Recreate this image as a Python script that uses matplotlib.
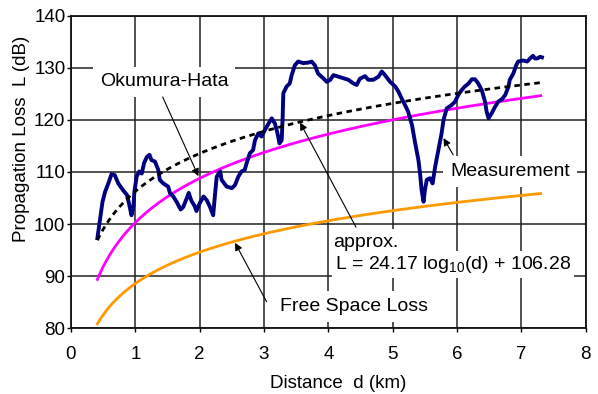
import numpy as np
import matplotlib
matplotlib.use("Agg")
import matplotlib.pyplot as plt

plt.rcParams["font.family"] = ["Liberation Sans", "DejaVu Sans"]
plt.rcParams["mathtext.fontset"] = "custom"
plt.rcParams["mathtext.rm"] = "Liberation Sans"

# Measured propagation loss along the route
d_meas = [0.41, 0.45, 0.49, 0.53, 0.58, 0.63, 0.68, 0.735, 0.81, 0.87, 0.906, 0.94,
          0.97, 0.985, 1.02, 1.06, 1.10, 1.135, 1.18, 1.22, 1.25, 1.305, 1.357, 1.38,
          1.435, 1.51, 1.54, 1.59, 1.64, 1.705, 1.745, 1.80, 1.83, 1.87, 1.92, 1.95,
          2.00, 2.06, 2.11, 2.16, 2.21, 2.24, 2.265, 2.32, 2.34, 2.42, 2.50, 2.55,
          2.60, 2.65, 2.70, 2.73, 2.78, 2.83, 2.86, 2.91, 2.96, 3.015, 3.07, 3.12,
          3.17, 3.21, 3.24, 3.275, 3.29, 3.30, 3.35, 3.40, 3.43, 3.48, 3.53, 3.61,
          3.69, 3.74, 3.79, 3.84, 3.92, 3.975, 4.03, 4.08, 4.155, 4.23, 4.31, 4.39,
          4.44, 4.49, 4.57, 4.62, 4.70, 4.78, 4.83, 4.88, 4.96, 5.04, 5.09, 5.14,
          5.19, 5.24, 5.30, 5.35, 5.40, 5.425, 5.45, 5.48, 5.50, 5.53, 5.58, 5.62,
          5.66, 5.71, 5.76, 5.79, 5.84, 5.92, 5.97, 6.02, 6.07, 6.12, 6.18, 6.23,
          6.28, 6.33, 6.385, 6.435, 6.46, 6.49, 6.54, 6.59, 6.64, 6.70, 6.75, 6.80,
          6.82, 6.875, 6.92, 6.95, 7.03, 7.09, 7.135, 7.18, 7.21, 7.25, 7.29, 7.32]
L_meas = [97.3, 100.8, 104.3, 106.2, 107.8, 109.6, 109.4, 107.8, 106.5, 105.6, 103.7, 101.7,
          103.3, 106.2, 109.1, 110.1, 109.7, 111.7, 112.9, 113.3, 112.3, 112.0, 110.4, 108.5,
          107.8, 107.2, 105.9, 105.3, 104.3, 102.8, 103.3, 105.0, 106.0, 104.5, 103.5, 102.5,
          104.0, 105.3, 104.6, 103.3, 101.7, 105.9, 109.1, 110.1, 108.5, 107.2, 106.9, 107.5,
          109.1, 110.1, 110.4, 111.7, 113.6, 114.2, 116.1, 117.4, 116.8, 118.1, 119.3, 120.3,
          119.3, 117.4, 115.5, 116.1, 120.6, 125.1, 126.4, 127.0, 128.6, 130.5, 131.2, 130.9,
          131.0, 131.2, 130.5, 128.9, 128.0, 127.3, 127.7, 128.6, 128.3, 128.0, 127.7, 127.0,
          126.7, 127.9, 128.4, 127.7, 127.7, 128.3, 129.3, 128.6, 127.3, 126.4, 125.4, 124.1,
          122.9, 121.6, 119.0, 115.5, 112.3, 109.7, 106.5, 104.3, 106.5, 108.5, 108.8, 107.8,
          111.0, 114.2, 117.4, 120.0, 122.2, 122.9, 123.5, 124.8, 125.7, 126.4, 127.0, 127.8,
          127.8, 127.0, 125.7, 123.5, 121.6, 120.3, 121.3, 122.5, 123.5, 124.0, 124.8, 126.4,
          127.7, 128.9, 130.5, 131.2, 131.4, 131.2, 131.8, 132.3, 131.8, 131.8, 132.1, 132.0]

# Model curves: L = slope * log10(d) + intercept
approx_slope, approx_intercept = 24.17, 106.28
hata_slope, hata_intercept = 28.2, 100.3
fsl_slope, fsl_intercept = 20.0, 88.6
d_start, d_end = 0.41, 7.3

x_ticks = [0, 1, 2, 3, 4, 5, 6, 7, 8]
y_ticks = [80, 90, 100, 110, 120, 130, 140]

fig = plt.figure(figsize=(5.98, 3.94), dpi=100)
ax = fig.add_axes([71 / 598, 1 - 328.3 / 394, (585.7 - 71) / 598, (328.3 - 15.7) / 394])

d = np.linspace(d_start, d_end, 300)
ax.plot(d, fsl_slope * np.log10(d) + fsl_intercept, color="#FF9900", lw=2.0, zorder=3)
ax.plot(d, hata_slope * np.log10(d) + hata_intercept, color="#FF00FF", lw=2.0, zorder=3)
ax.plot(d_meas, L_meas, color="#000080", lw=2.8, zorder=4, solid_joinstyle="round")
ax.plot(d, approx_slope * np.log10(d) + approx_intercept, color="black", lw=2.0,
        dashes=(2.0, 1.6), zorder=5)

ax.set_xlim(0, 8)
ax.set_ylim(80, 140)
ax.set_xticks(x_ticks)
ax.set_yticks(y_ticks)
ax.grid(True, color="#222222", lw=1.1)
ax.set_axisbelow(True)
for s in ax.spines.values():
    s.set_linewidth(1.3)
    s.set_color("#111111")
ax.tick_params(direction="out", length=3, width=1.0, labelsize=13.5, pad=1)
ax.tick_params(axis="x", pad=10)

fig.text(338 / 598, 1 - 383 / 394, "Distance  d (km)", ha="center", va="center", fontsize=13.5)
fig.text(22 / 598, 1 - 139 / 394, "Propagation Loss  L (dB)", ha="center", va="center",
         rotation=90, fontsize=13.5)

box = dict(boxstyle="square,pad=0.35", facecolor="white", edgecolor="none")
arrow = dict(arrowstyle="-|>", color="black", lw=0.8, mutation_scale=11, shrinkA=0, shrinkB=0)

ax.text(0.45, 127.3, "Okumura-Hata", fontsize=14, va="center", ha="left", bbox=box, zorder=6)
ax.annotate("", xy=(1.98, 109.2), xytext=(1.425, 124.4), arrowprops=arrow, zorder=7)

ax.text(5.89, 110.1, "Measurement", fontsize=14, va="center", ha="left", bbox=box, zorder=6)
ax.annotate("", xy=(5.79, 116.5), xytext=(5.94, 113.3), arrowprops=arrow, zorder=7)

ax.text(4.08, 96.4, "approx.", fontsize=14, va="center", ha="left",
        bbox=dict(boxstyle="square,pad=0.25", facecolor="white", edgecolor="none"), zorder=6)
ax.text(4.10, 92.2, r"L = 24.17 log$_{\mathregular{10}}$(d) + 106.28", fontsize=14,
        va="center", ha="left",
        bbox=dict(boxstyle="square,pad=0.15", facecolor="white", edgecolor="none"), zorder=6)
ax.annotate("", xy=(3.56, 119.5), xytext=(4.43, 99.4), arrowprops=arrow, zorder=7)

ax.text(3.25, 84.2, "Free Space Loss", fontsize=14, va="center", ha="left", bbox=box, zorder=6)
ax.annotate("", xy=(2.55, 96.4), xytext=(3.04, 85.1), arrowprops=arrow, zorder=7)

fig.savefig("out.png", dpi=100)
